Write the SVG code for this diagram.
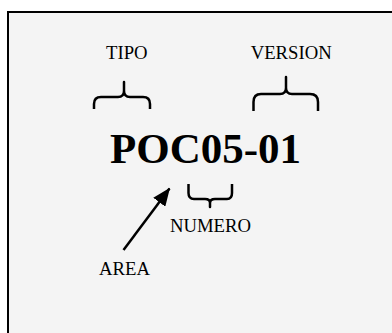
<svg xmlns="http://www.w3.org/2000/svg" width="392" height="333" viewBox="0 0 392 333">
  <defs>
    <style>
      .lbl { font-family: "Liberation Serif", "Times New Roman", serif; font-size: 18.7px; fill: #000; }
      .code { font-family: "Liberation Serif", "Times New Roman", serif; font-size: 43px; font-weight: bold; fill: #000; }
      .brace { fill: none; stroke: #000; stroke-width: 2.5; stroke-linejoin: round; stroke-linecap: butt; }
      .conn { fill: none; stroke: #000; stroke-width: 2.5; }
    </style>
    <marker id="arrow" viewBox="0 0 10 10" refX="9.5" refY="5" markerUnits="userSpaceOnUse" markerWidth="18" markerHeight="15" preserveAspectRatio="none" orient="auto">
      <path d="M0,0 L10,5 L0,10 Z" fill="#000"/>
    </marker>
  </defs>
  <rect x="0" y="0" width="392" height="333" fill="#ffffff"/>
  <rect id="frame" x="8" y="12" width="400" height="340" fill="#f4f4f4" stroke="#000" stroke-width="2"/>

  <g id="code">
    <text class="code" x="110" y="162.7">POC05-01</text>
  </g>
  <g id="tipo">
    <text class="lbl" x="106" y="59.3">TIPO</text>
    <path class="brace" d="M94,109 L94,104 Q94,97 101,97 L118,97 Q124,97 124,91 L124,82 L124,91 Q124,97 130,97 L143,97 Q150,97 150,104 L150,109"/>
  </g>
  <g id="version">
    <text class="lbl" x="250.7" y="59.3">VERSION</text>
    <path class="brace" d="M253.5,111 L253.5,102 Q253.5,94 261,94 L280,94 Q286,94 286,88 L286,77 L286,88 Q286,94 292,94 L310,94 Q318,94 318,102 L318,111"/>
  </g>
  <g id="numero">
    <path class="brace" d="M188.5,184 L188.5,193 Q188.5,199 194,199 L205,199 Q210,199 210,203 L210,207 L210,203 Q210,199 215,199 L227,199 Q232,199 232,193 L232,184"/>
    <text class="lbl" x="170" y="232.3">NUMERO</text>
  </g>
  <g id="area">
    <text class="lbl" x="99" y="275">AREA</text>
  </g>
  <g id="connectors">
    <line class="conn" x1="123.5" y1="250" x2="169.5" y2="188.5" marker-end="url(#arrow)"/>
  </g>
</svg>
